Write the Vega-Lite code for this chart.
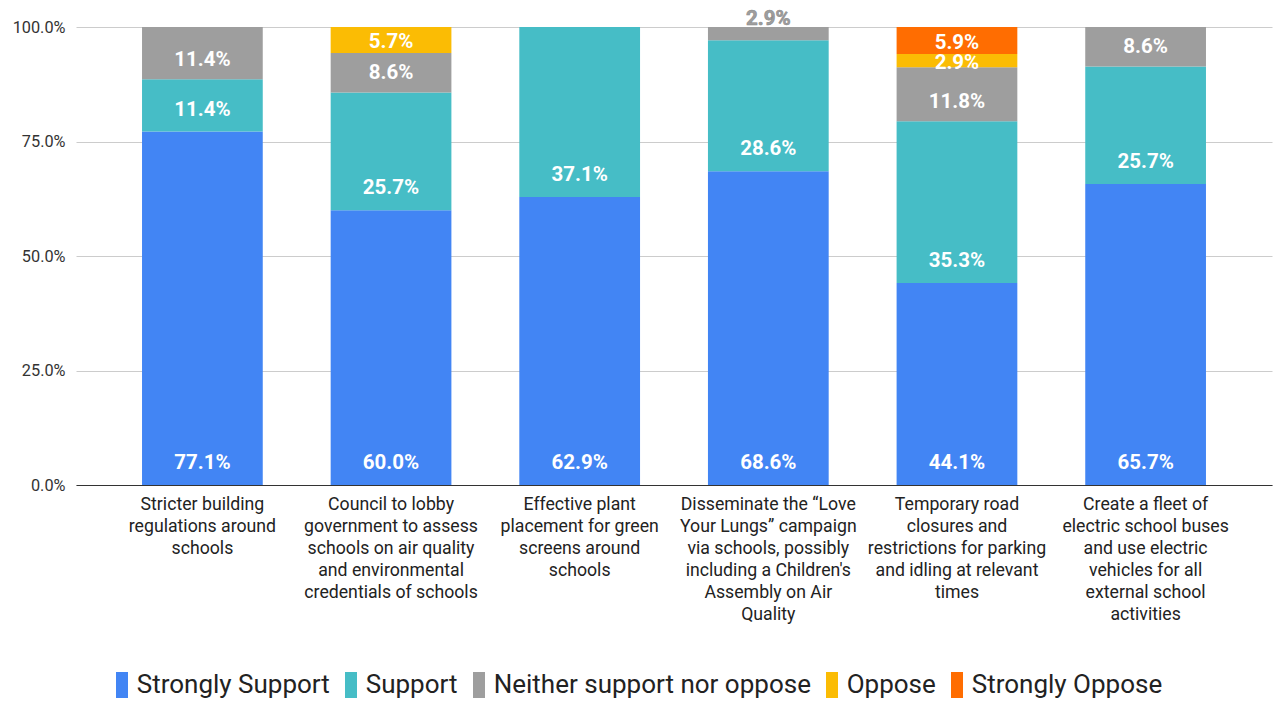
{
  "$schema": "https://vega.github.io/schema/vega-lite/v6.json",
  "width": 1196,
  "height": 458,
  "autosize": {"type": "none"},
  "padding": {"left": 76, "top": 27, "right": 4, "bottom": 216},
  "config": {"font": "Roboto", "view": {"stroke": null}},
  "data": {
    "values": [
      {"category": "Stricter building|regulations around|schools", "series": "Strongly Support", "rank": 1, "pct": 0.771},
      {"category": "Stricter building|regulations around|schools", "series": "Support", "rank": 2, "pct": 0.114},
      {"category": "Stricter building|regulations around|schools", "series": "Neither support nor oppose", "rank": 3, "pct": 0.114},
      {"category": "Council to lobby|government to assess|schools on air quality|and environmental|credentials of schools", "series": "Strongly Support", "rank": 1, "pct": 0.6},
      {"category": "Council to lobby|government to assess|schools on air quality|and environmental|credentials of schools", "series": "Support", "rank": 2, "pct": 0.257},
      {"category": "Council to lobby|government to assess|schools on air quality|and environmental|credentials of schools", "series": "Neither support nor oppose", "rank": 3, "pct": 0.086},
      {"category": "Council to lobby|government to assess|schools on air quality|and environmental|credentials of schools", "series": "Oppose", "rank": 4, "pct": 0.057},
      {"category": "Effective plant|placement for green|screens around|schools", "series": "Strongly Support", "rank": 1, "pct": 0.629},
      {"category": "Effective plant|placement for green|screens around|schools", "series": "Support", "rank": 2, "pct": 0.371},
      {"category": "Disseminate the “Love|Your Lungs” campaign|via schools, possibly|including a Children's|Assembly on Air|Quality", "series": "Strongly Support", "rank": 1, "pct": 0.686},
      {"category": "Disseminate the “Love|Your Lungs” campaign|via schools, possibly|including a Children's|Assembly on Air|Quality", "series": "Support", "rank": 2, "pct": 0.286},
      {"category": "Disseminate the “Love|Your Lungs” campaign|via schools, possibly|including a Children's|Assembly on Air|Quality", "series": "Neither support nor oppose", "rank": 3, "pct": 0.029},
      {"category": "Temporary road|closures and|restrictions for parking|and idling at relevant|times", "series": "Strongly Support", "rank": 1, "pct": 0.441},
      {"category": "Temporary road|closures and|restrictions for parking|and idling at relevant|times", "series": "Support", "rank": 2, "pct": 0.353},
      {"category": "Temporary road|closures and|restrictions for parking|and idling at relevant|times", "series": "Neither support nor oppose", "rank": 3, "pct": 0.118},
      {"category": "Temporary road|closures and|restrictions for parking|and idling at relevant|times", "series": "Oppose", "rank": 4, "pct": 0.029},
      {"category": "Temporary road|closures and|restrictions for parking|and idling at relevant|times", "series": "Strongly Oppose", "rank": 5, "pct": 0.059},
      {"category": "Create a fleet of|electric school buses|and use electric|vehicles for all|external school|activities", "series": "Strongly Support", "rank": 1, "pct": 0.657},
      {"category": "Create a fleet of|electric school buses|and use electric|vehicles for all|external school|activities", "series": "Support", "rank": 2, "pct": 0.257},
      {"category": "Create a fleet of|electric school buses|and use electric|vehicles for all|external school|activities", "series": "Neither support nor oppose", "rank": 3, "pct": 0.086}
    ]
  },
  "encoding": {
    "x": {
      "field": "category",
      "type": "nominal",
      "sort": null,
      "title": null,
      "scale": {"paddingInner": 0.36, "paddingOuter": 0.35},
      "axis": {
        "labelExpr": "split(datum.value, '|')",
        "labelAngle": 0,
        "labelFontSize": 17.7,
        "labelLineHeight": 22,
        "labelColor": "#222222",
        "labelPadding": 10,
        "ticks": false,
        "domainColor": "#333333",
        "domainWidth": 1,
        "labelLimit": 0
      }
    },
    "order": {"field": "rank", "type": "quantitative"},
    "detail": {"field": "series"}
  },
  "layer": [
    {
      "mark": {"type": "bar"},
      "encoding": {
        "y": {
          "field": "pct",
          "type": "quantitative",
          "stack": "normalize",
          "title": null,
          "scale": {"domain": [0, 1]},
          "axis": {
            "values": [0, 0.25, 0.5, 0.75, 1],
            "labelExpr": "format(datum.value, '.1%')",
            "labelFontSize": 16.3,
            "labelColor": "#333333",
            "labelPadding": 11,
            "ticks": false,
            "domain": false,
            "gridColor": "#cccccc"
          }
        },
        "color": {
          "field": "series",
          "type": "nominal",
          "scale": {
            "domain": ["Strongly Support", "Support", "Neither support nor oppose", "Oppose", "Strongly Oppose"],
            "range": ["#4285F4", "#46BDC6", "#9E9E9E", "#FBBC04", "#FF6D01"]
          },
          "legend": {
            "orient": "none",
            "legendX": 33,
            "legendY": 645,
            "direction": "horizontal",
            "columns": 5,
            "title": null,
            "symbolType": "M-0.46,-1H0.46V1H-0.46Z",
            "symbolSize": 676,
            "symbolStrokeWidth": 0,
            "symbolOpacity": 1,
            "labelFontSize": 26,
            "labelColor": "#222222",
            "labelOffset": 1.7,
            "columnPadding": 8,
            "labelLimit": 0
          }
        }
      }
    },
    {
      "mark": {"type": "text", "color": "#ffffff", "fontWeight": "bold", "fontSize": 20.5, "dy": -22},
      "encoding": {
        "y": {"field": "pct", "type": "quantitative", "stack": "normalize", "title": null, "bandPosition": 0},
        "text": {"condition": {"test": "datum.rank <= 2", "field": "pct", "format": ".1%"}, "value": ""}
      }
    },
    {
      "mark": {"type": "text", "color": "#ffffff", "fontWeight": "bold", "fontSize": 20.5, "dy": -19},
      "encoding": {
        "y": {"field": "pct", "type": "quantitative", "stack": "normalize", "title": null, "bandPosition": 0},
        "text": {"condition": {"test": "datum.rank == 3 && !(indexof(datum.category, 'Disseminate') == 0)", "field": "pct", "format": ".1%"}, "value": ""}
      }
    },
    {
      "mark": {"type": "text", "color": "#ffffff", "fontWeight": "bold", "fontSize": 20.5, "dy": 2},
      "encoding": {
        "y": {"field": "pct", "type": "quantitative", "stack": "normalize", "title": null, "bandPosition": 0.5},
        "text": {"condition": {"test": "datum.rank >= 4", "field": "pct", "format": ".1%"}, "value": ""}
      }
    },
    {
      "mark": {"type": "text", "color": "#9E9E9E", "fontWeight": "bold", "fontSize": 20.5, "dy": -8, "stroke": "#8a8a8a", "strokeWidth": 0.6},
      "encoding": {
        "y": {"field": "pct", "type": "quantitative", "stack": "normalize", "title": null, "bandPosition": 1},
        "text": {"condition": {"test": "datum.rank == 3 && indexof(datum.category, 'Disseminate') == 0", "field": "pct", "format": ".1%"}, "value": ""}
      }
    }
  ]
}
